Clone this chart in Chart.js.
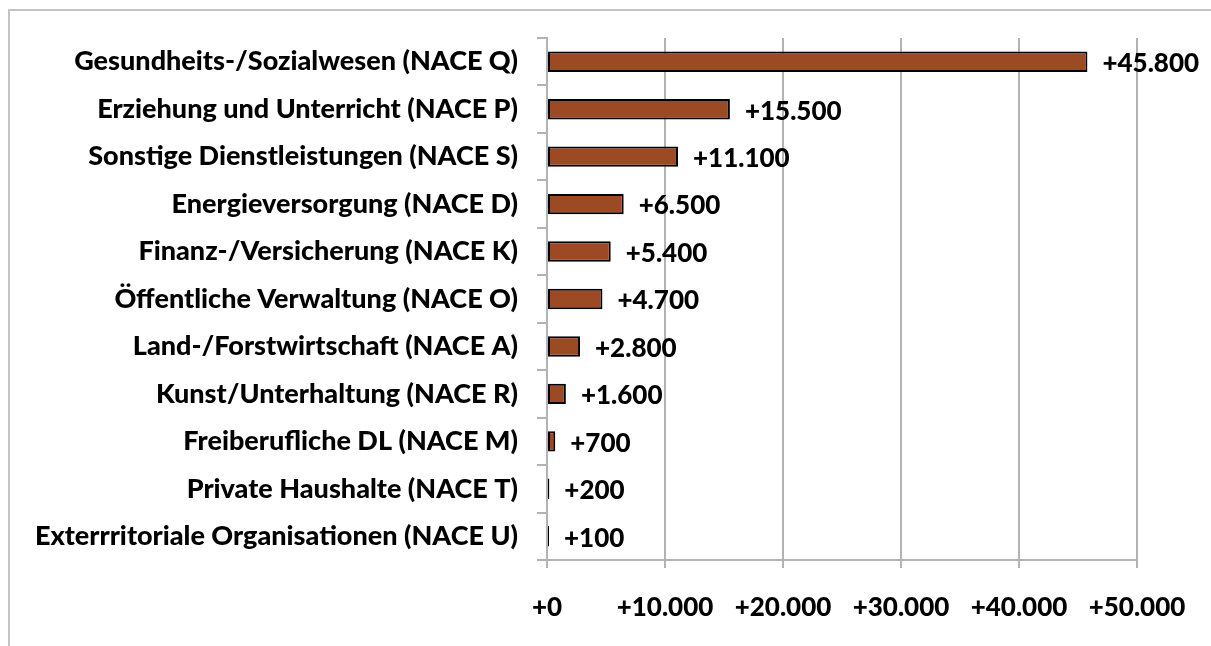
<!DOCTYPE html>
<html>
<head>
<meta charset="utf-8">
<script src="https://cdn.jsdelivr.net/npm/chart.js@4.4.1/dist/chart.umd.min.js"></script>
<style>
  html, body { margin: 0; padding: 0; background: #fff; overflow: hidden; }
  #frame { position: absolute; left: 8px; top: 9px; width: 1300px; height: 700px;
           border-left: 2px solid #c4c4c4; border-top: 2px solid #c4c4c4; }
  #wrap { position: absolute; left: 0; top: 0; width: 1211px; height: 646px; }
</style>
</head>
<body>
<div id="frame"></div>
<div id="wrap"><canvas id="c" width="1211" height="646"></canvas></div>
<script>
const categories = [
  "Gesundheits-/Sozialwesen (NACE Q)",
  "Erziehung und Unterricht (NACE P)",
  "Sonstige Dienstleistungen (NACE S)",
  "Energieversorgung (NACE D)",
  "Finanz-/Versicherung (NACE K)",
  "Öffentliche Verwaltung (NACE O)",
  "Land-/Forstwirtschaft (NACE A)",
  "Kunst/Unterhaltung (NACE R)",
  "Freiberufliche DL (NACE M)",
  "Private Haushalte (NACE T)",
  "Exterrritoriale Organisationen (NACE U)"
];
const values = [45800, 15500, 11100, 6500, 5400, 4700, 2800, 1600, 700, 200, 100];
const xTicks = [0, 10000, 20000, 30000, 40000, 50000];

const FONT = "Lato";
function fmt(v) {
  const s = Math.round(v).toString().replace(/\B(?=(\d{3})+(?!\d))/g, ".");
  return "+" + s;
}

const labelPlugin = {
  id: "barLabels",
  afterDatasetsDraw(chart) {
    const ctx = chart.ctx;
    const meta = chart.getDatasetMeta(0);
    ctx.save();
    ctx.font = "900 26px " + FONT;
    ctx.fillStyle = "#000";
    ctx.textAlign = "left";
    ctx.textBaseline = "middle";
    meta.data.forEach((bar, i) => {
      ctx.fillText(fmt(values[i]), bar.x + 15, bar.y + 2);
    });
    ctx.restore();
  }
};

new Chart(document.getElementById("c"), {
  type: "bar",
  data: {
    labels: categories,
    datasets: [{
      data: values,
      backgroundColor: "#9c4a24",
      borderColor: "#000000",
      borderWidth: 2,
      borderSkipped: false,
      minBarLength: 2,
      categoryPercentage: 1,
      barPercentage: 0.43
    }]
  },
  options: {
    indexAxis: "y",
    responsive: false,
    animation: false,
    events: [],
    layout: { padding: { top: 38, right: 74, left: 0, bottom: 0 } },
    plugins: { legend: { display: false }, tooltip: { enabled: false } },
    scales: {
      x: {
        min: 0, max: 50000,
        afterBuildTicks(scale) { scale.ticks = xTicks.map(v => ({ value: v })); },
        afterFit(scale) { scale.height = 86; },
        grid: { color: "#b3b3b3", lineWidth: 2, tickLength: 8, drawTicks: true },
        border: { color: "#b3b3b3", width: 2 },
        ticks: {
          color: "#000",
          font: { family: FONT, size: 26, weight: "900" },
          padding: 24,
          callback: (v) => fmt(v)
        }
      },
      y: {
        afterFit(scale) { scale.width = 547; },
        grid: { drawOnChartArea: false, color: "#b3b3b3", lineWidth: 2, tickLength: 10, offset: true },
        border: { color: "#b3b3b3", width: 2 },
        ticks: {
          color: "#000",
          font: { family: FONT, size: 27, weight: "900" },
          padding: 19,
          autoSkip: false
        }
      }
    }
  },
  plugins: [labelPlugin]
});
</script>
</body>
</html>
